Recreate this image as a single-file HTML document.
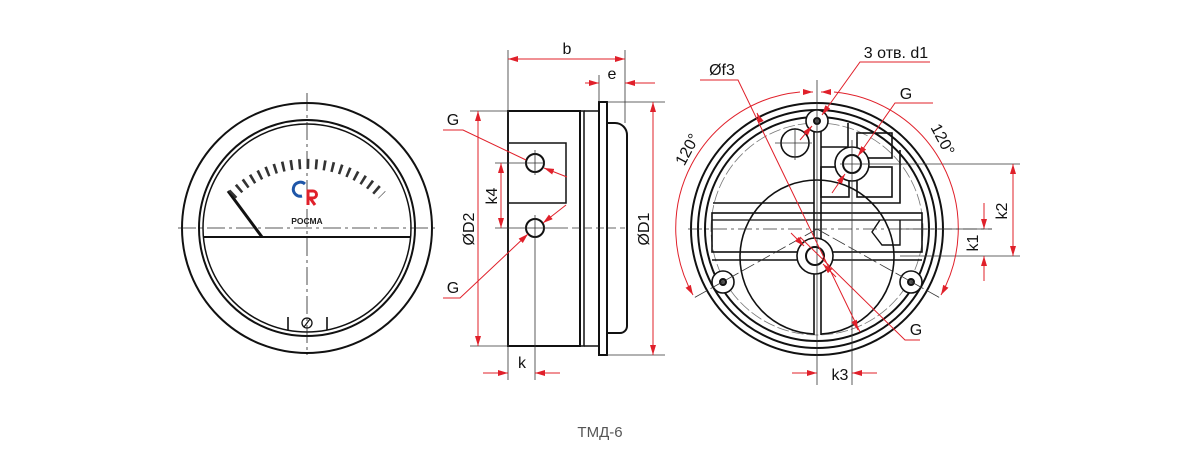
<!DOCTYPE html>
<html><head><meta charset="utf-8"><style>
html,body{margin:0;padding:0;background:#fff;}
svg{display:block;}
text{font-family:"Liberation Sans",sans-serif;}
</style></head><body>
<svg width="1200" height="475" viewBox="0 0 1200 475" xmlns="http://www.w3.org/2000/svg">
<defs>
<marker id="a" viewBox="0 0 10 6" refX="10" refY="3" markerWidth="10" markerHeight="6" markerUnits="userSpaceOnUse" orient="auto-start-reverse"><path d="M0,0 L10,3 L0,6 z" fill="#e0202a"/></marker>
</defs>
<!-- FRONT VIEW -->
<g fill="none" stroke="#111">
<circle cx="307" cy="228" r="125" stroke-width="2"/>
<circle cx="307" cy="228" r="108" stroke-width="2"/>
<circle cx="307" cy="228" r="104" stroke-width="1.5"/>
<line x1="203" y1="237" x2="411" y2="237" stroke-width="2"/>
<line x1="228" y1="191" x2="262" y2="237" stroke-width="3"/>
<line x1="288" y1="317" x2="288" y2="330" stroke-width="1.6"/>
<line x1="327" y1="317" x2="327" y2="330" stroke-width="1.6"/>
<circle cx="307" cy="323" r="5" stroke-width="1.3"/>
<line x1="304" y1="327" x2="310" y2="319" stroke-width="1.2"/>
<g stroke="#222" stroke-width="0.8" stroke-dasharray="18,4,3,4">
<line x1="307" y1="93" x2="307" y2="355"/>
<line x1="178" y1="228" x2="437" y2="228"/>
</g>
<path d="M232,195 A106,106 0 0 1 382,195" stroke="#333" stroke-width="10" stroke-dasharray="2.6,5.7"/>
</g>
<path d="M302,196 a7,7 0 1 1 3,-12" fill="none" stroke="#1f56a8" stroke-width="3"/>
<path d="M308,205 v-14 h5 a3.5,3.5 0 0 1 0,7 h-3 l5,7" fill="none" stroke="#e0202a" stroke-width="3"/>
<text x="307" y="224" font-size="8.5" font-weight="bold" text-anchor="middle" fill="#222">РОСМА</text>

<!-- SIDE VIEW -->
<g fill="none" stroke="#111" stroke-width="2">
<rect x="508" y="111" width="72" height="235"/>
<rect x="580" y="111" width="4" height="235" stroke-width="1.5"/>
<line x1="584" y1="111" x2="599" y2="111" stroke-width="1.5"/>
<line x1="584" y1="346" x2="599" y2="346" stroke-width="1.5"/>
<rect x="599" y="102" width="8" height="253"/>
<path d="M607,123 H615 a12,12 0 0 1 12,12 V326 a7,7 0 0 1 -7,7 H607" />
<polyline points="508,143 566,143 566,203 508,203" stroke-width="1.5"/>
<circle cx="535" cy="163" r="9"/>
<circle cx="535" cy="228" r="9"/>
</g>
<g stroke="#333" stroke-width="0.8" fill="none">
<line x1="508" y1="50" x2="508" y2="380"/>
<line x1="625" y1="50" x2="625" y2="123"/>
<line x1="599" y1="75" x2="599" y2="102"/>
<line x1="607" y1="102" x2="665" y2="102"/>
<line x1="607" y1="355" x2="665" y2="355"/>
<line x1="470" y1="111" x2="508" y2="111"/>
<line x1="470" y1="346" x2="508" y2="346"/>
<line x1="495" y1="163" x2="545" y2="163"/>
<line x1="535" y1="150" x2="535" y2="175"/>
<line x1="495" y1="228" x2="560" y2="228"/>
<line x1="560" y1="228" x2="625" y2="228" stroke-dasharray="8,4"/>
<line x1="535" y1="215" x2="535" y2="380"/>
</g>
<g stroke="#e0202a" stroke-width="1" fill="none">
<line x1="508" y1="59" x2="625" y2="59" marker-start="url(#a)" marker-end="url(#a)"/>
<line x1="585" y1="83" x2="599" y2="83" marker-end="url(#a)"/>
<line x1="655" y1="83" x2="625" y2="83" marker-end="url(#a)"/>
<line x1="653" y1="102" x2="653" y2="355" marker-start="url(#a)" marker-end="url(#a)"/>
<line x1="478" y1="111" x2="478" y2="346" marker-start="url(#a)" marker-end="url(#a)"/>
<line x1="501" y1="163" x2="501" y2="228" marker-start="url(#a)" marker-end="url(#a)"/>
<line x1="483" y1="373" x2="508" y2="373" marker-end="url(#a)"/>
<line x1="560" y1="373" x2="535" y2="373" marker-end="url(#a)"/>
<polyline points="443,130 463,130 526,160"/>
<line x1="567" y1="177" x2="544" y2="168" marker-end="url(#a)"/>
<polyline points="443,298 460,298 528,234" marker-end="url(#a)"/>
<line x1="566" y1="205" x2="543" y2="223" marker-end="url(#a)"/>
</g>
<g font-size="16" fill="#111">
<text x="567" y="54" text-anchor="middle">b</text>
<text x="612" y="79" text-anchor="middle">e</text>
<text x="453" y="125" text-anchor="middle">G</text>
<text x="453" y="293" text-anchor="middle">G</text>
<text x="522" y="368" text-anchor="middle">k</text>
<text transform="translate(497,196) rotate(-90)" text-anchor="middle">k4</text>
<text transform="translate(474,229) rotate(-90)" text-anchor="middle">ØD2</text>
<text transform="translate(649,229) rotate(-90)" text-anchor="middle">ØD1</text>
</g>

<!-- BACK VIEW -->
<g fill="none" stroke="#111" stroke-width="2">
<circle cx="817" cy="229" r="126"/>
<circle cx="817" cy="229" r="119"/>
<circle cx="817" cy="229" r="112"/>
<circle cx="817" cy="229" r="106" stroke="#777" stroke-width="0.8" stroke-dasharray="12,3"/>
<path d="M740,257 A77,77 0 0 1 894,257" stroke-width="1.6"/>
<path d="M740,257 A77,77 0 0 0 814,334" stroke-width="1.6"/>
<path d="M821,334 A77,77 0 0 0 894,257" stroke-width="1.6"/>
<rect x="712" y="213" width="210" height="39" stroke-width="1.6"/>
<line x1="712" y1="220" x2="922" y2="220" stroke-width="1.2"/>
<line x1="712" y1="260" x2="922" y2="260" stroke-width="1.6"/>
<line x1="713" y1="203" x2="814" y2="203" stroke-width="1.6"/>
<line x1="814" y1="118" x2="814" y2="335" stroke-width="1.6"/>
<line x1="821" y1="118" x2="821" y2="335" stroke-width="1.6"/>
<polyline points="821,203 900,203 900,150" stroke-width="1.6"/>
<polyline points="848,123 848,147 821,147" stroke-width="1.6"/>
<rect x="857" y="133" width="35" height="25" stroke-width="1.6"/>
<rect x="857" y="167" width="35" height="30" stroke-width="1.6"/>
<rect x="821" y="167" width="28" height="30" stroke-width="1.6"/>
<polyline points="880,220 872,232 882,245 900,245 900,220" stroke-width="1.4"/>
<circle cx="852" cy="164" r="17" stroke-width="1.6" fill="#fff"/>
<circle cx="852" cy="164" r="9"/>
<circle cx="815" cy="256" r="18" stroke-width="1.6" fill="#fff"/>
<circle cx="815" cy="256" r="9"/>
<circle cx="817" cy="121" r="11" fill="#fff" stroke-width="1.6"/>
<circle cx="817" cy="121" r="3" fill="#555"/>
<circle cx="723" cy="282" r="11" fill="#fff" stroke-width="1.6"/>
<circle cx="723" cy="282" r="3" fill="#555"/>
<circle cx="911" cy="282" r="11" fill="#fff" stroke-width="1.6"/>
<circle cx="911" cy="282" r="3" fill="#555"/>
<circle cx="795" cy="143" r="14" stroke-width="1.6"/>
</g>
<g stroke="#333" stroke-width="0.8" fill="none">
<line x1="817" y1="80" x2="817" y2="385"/>
<line x1="852" y1="140" x2="852" y2="385"/>
<line x1="688" y1="229" x2="992" y2="229" stroke-dasharray="14,4,3,4"/>
<line x1="775" y1="143" x2="812" y2="143"/>
<line x1="795" y1="128" x2="795" y2="160"/>
<line x1="840" y1="164" x2="1020" y2="164"/>
<line x1="900" y1="256" x2="1020" y2="256"/>
<line x1="817" y1="229" x2="692" y2="299" stroke-dasharray="14,4"/>
<line x1="817" y1="229" x2="942" y2="299" stroke-dasharray="14,4"/>
</g>
<g stroke="#e0202a" stroke-width="1" fill="none">
<path d="M800,92 A137,137 0 0 0 693,295" marker-end="url(#a)"/>
<path d="M834,92 A137,137 0 0 1 941,295" marker-end="url(#a)"/>
<line x1="803" y1="92" x2="813" y2="92" marker-end="url(#a)"/>
<line x1="831" y1="92" x2="821" y2="92" marker-end="url(#a)"/>
<polyline points="930,62 860,62 822,115" marker-end="url(#a)"/>
<line x1="800" y1="140" x2="812" y2="126" marker-end="url(#a)"/>
<polyline points="933,103 895,103 858,156" marker-end="url(#a)"/>
<line x1="832" y1="193" x2="845" y2="174" marker-end="url(#a)"/>
<polyline points="700,80 738,80 860,332"/>
<line x1="760" y1="120" x2="757" y2="113" marker-end="url(#a)"/>
<line x1="855" y1="323" x2="858" y2="330" marker-end="url(#a)"/>
<polyline points="920,340 905,340 800,237"/>
<line x1="791" y1="233" x2="804" y2="246" marker-end="url(#a)"/>
<line x1="836" y1="277" x2="823" y2="264" marker-end="url(#a)"/>
<line x1="792" y1="373" x2="817" y2="373" marker-end="url(#a)"/>
<line x1="877" y1="373" x2="852" y2="373" marker-end="url(#a)"/>
<line x1="1013" y1="164" x2="1013" y2="256" marker-start="url(#a)" marker-end="url(#a)"/>
<line x1="984" y1="203" x2="984" y2="229" marker-end="url(#a)"/>
<line x1="984" y1="281" x2="984" y2="256" marker-end="url(#a)"/>
</g>
<line x1="900" y1="229" x2="992" y2="229" stroke="#333" stroke-width="0.8"/>
<g font-size="16" fill="#111">
<text x="896" y="58" text-anchor="middle">3 отв. d1</text>
<text x="722" y="75" text-anchor="middle">Øf3</text>
<text x="906" y="99" text-anchor="middle">G</text>
<text x="916" y="335" text-anchor="middle">G</text>
<text x="840" y="380" text-anchor="middle">k3</text>
<text transform="translate(1007,211) rotate(-90)" text-anchor="middle">k2</text>
<text transform="translate(978,243) rotate(-90)" text-anchor="middle">k1</text>
<text transform="translate(692,152) rotate(-62)" text-anchor="middle">120°</text>
<text transform="translate(938,142) rotate(62)" text-anchor="middle">120°</text>
</g>
<text x="600" y="437" font-size="15" fill="#555" text-anchor="middle">ТМД-6</text>
</svg>
</body></html>
